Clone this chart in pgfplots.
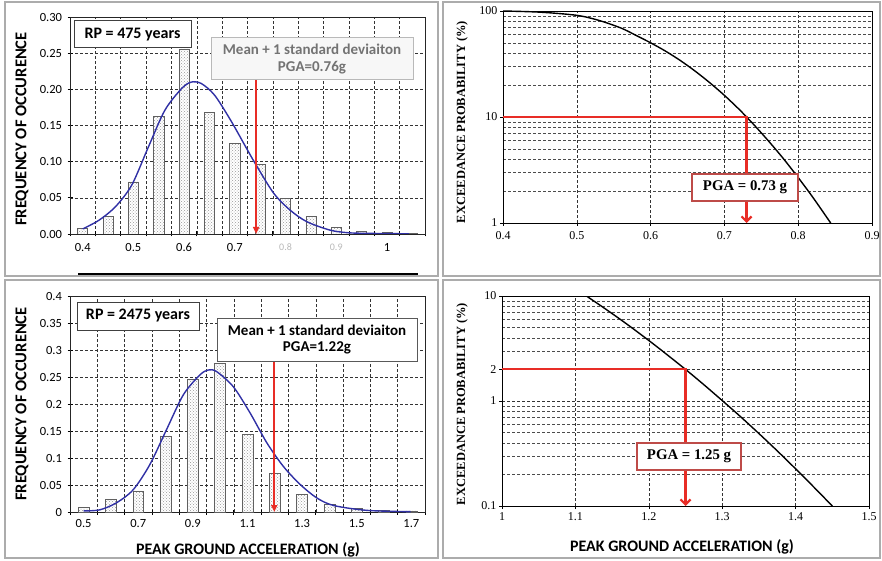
\documentclass[border=0pt]{standalone}
\usepackage{fontspec}
\setmainfont{Carlito}
\newfontfamily\tnr{Liberation Serif}
\usepackage{pgfplots}
\pgfplotsset{compat=1.18}
\usetikzlibrary{patterns,arrows.meta}

\definecolor{curveblue}{RGB}{48,48,165}
\definecolor{pgared}{RGB}{232,45,38}
\definecolor{boxred}{RGB}{190,75,72}

\pgfplotsset{
  histo/.style={
    /pgf/number format/assume math mode=true,
    scale only axis,
    axis line style={black!85, line width=0.8pt},
    grid=major,
    major grid style={black!80, densely dashed, line width=0.5pt},
    tick style={black, line width=0.8pt},
    tick align=center, major tick length=5pt,
    xtick pos=bottom, ytick pos=left,
    tick label style={font=\fontsize{12.5}{14}\selectfont},
    yticklabel style={xshift=-2pt},
    xticklabels={},
    extra x tick style={grid=none, major tick length=0pt,
      xticklabel style={yshift=-4pt}},
    ymin=0,
  },
  bars/.style={ybar, bar shift=0pt, draw=gray!75!black, line width=0.6pt,
    fill=white, postaction={pattern=crosshatch dots, pattern color=gray!80}},
  fit/.style={curveblue, line width=1.4pt, smooth, tension=0.5},
  hazard/.style={
    /pgf/number format/assume math mode=true,
    scale only axis,
    axis line style={black, line width=0.6pt},
    grid=both,
    major grid style={black!80, densely dashed, line width=0.5pt},
    minor grid style={black!70, densely dashed, line width=0.4pt},
    tick style={black, line width=0.6pt},
    major tick length=3pt, minor tick length=0pt, tick align=outside,
    xtick pos=bottom, ytick pos=left,
    tick label style={font=\tnr\fontsize{12}{14}\selectfont},
    yticklabel style={xshift=1pt},
  },
  hazcurve/.style={black, line width=1.4pt, smooth, tension=0.5},
  pgaline/.style={pgared, line width=2.2pt, -{Straight Barb[length=5pt,width=10pt]}},
}

\begin{document}
\begin{tikzpicture}[x=1pt,y=1pt]
\path[use as bounding box] (0,0) rectangle (882,560);
\fill[white] (0,0) rectangle (882,560);

% panel frames
\draw[gray!65, line width=1.4pt] (5,284) rectangle (438,558);
\draw[gray!65, line width=1.4pt] (5,2) rectangle (438,280);
\draw[gray!65, line width=1.4pt] (443,284) rectangle (880,558);
\draw[gray!65, line width=1.4pt] (443,2) rectangle (880,280);

% ---------- RP = 475 years : histogram ----------
\begin{axis}[histo, at={(70pt,326pt)}, anchor=south west,
  width=355pt, height=217pt,
  xmin=0.375, xmax=1.075, ymax=0.30,
  xtick={0.375,0.425,0.475,0.525,0.575,0.625,0.675,0.725,0.775,0.825,0.875,0.925,0.975,1.025,1.075},
  extra x ticks={0.4,0.5,0.6,0.7,0.8,0.9,1.0},
  extra x tick labels={0.4,0.5,0.6,0.7,{\color{gray!55}\fontsize{10}{11}\selectfont 0.8},{\color{gray!55}\fontsize{10}{11}\selectfont 0.9},1},
  extra x tick style={grid=none, major tick length=0pt, xticklabel style={yshift=-2pt}},
  ytick={0,0.05,0.10,0.15,0.20,0.25,0.30},
  yticklabels={0.00,0.05,0.10,0.15,0.20,0.25,0.30},
]
\addplot[bars, bar width=0.02] coordinates {
  (0.40,0.008) (0.45,0.024) (0.50,0.072) (0.55,0.163) (0.60,0.256)
  (0.65,0.168) (0.70,0.125) (0.75,0.096) (0.80,0.049) (0.85,0.024)
  (0.90,0.009) (0.95,0.004) (1.00,0.002) (1.05,0.001)};
\addplot[fit] coordinates {
  (0.400,0.007) (0.432,0.019) (0.465,0.038) (0.497,0.068) (0.530,0.121)
  (0.562,0.171) (0.595,0.201) (0.614,0.210) (0.634,0.208) (0.660,0.192)
  (0.692,0.157) (0.725,0.116) (0.744,0.093) (0.777,0.056) (0.809,0.033)
  (0.842,0.017) (0.887,0.0055) (0.919,0.002) (0.952,0.001) (1.043,0.0003)};
\addplot[pgared, line width=2pt, -{Triangle[length=7pt,width=6pt]}]
  coordinates {(0.742,0.2135) (0.742,0)};
\end{axis}
\node[draw=black!75, line width=1pt, fill=white, minimum width=117pt, minimum height=27pt,
  font=\bfseries\fontsize{16}{18}\selectfont] at (132.5,525.5) {RP = 475 years};
\node[draw=gray!55, line width=1pt, fill=gray!6, minimum width=202pt, minimum height=42pt,
  align=center, text=black!55, font=\bfseries\fontsize{15}{16.5}\selectfont]
  at (312,501) {Mean + 1 standard deviaiton\\PGA=0.76g};
\node[rotate=90, font=\bfseries\fontsize{16.5}{18}\selectfont] at (22,431) {FREQUENCY OF OCCURENCE};
\draw[black, line width=2.2pt] (78,286) -- (418,286);

% ---------- RP = 2475 years : histogram ----------
\begin{axis}[histo, at={(70pt,48pt)}, anchor=south west,
  width=355pt, height=216pt,
  xmin=0.45, xmax=1.75, ymax=0.4,
  xtick={0.45,0.55,0.65,0.75,0.85,0.95,1.05,1.15,1.25,1.35,1.45,1.55,1.65,1.75},
  extra x ticks={0.5,0.7,0.9,1.1,1.3,1.5,1.7},
  extra x tick labels={0.5,0.7,0.9,1.1,1.3,1.5,1.7},
  ytick={0,0.05,0.1,0.15,0.2,0.25,0.3,0.35,0.4},
  yticklabels={0,0.05,0.1,0.15,0.2,0.25,0.3,0.35,0.4},
]
\addplot[bars, bar width=0.04] coordinates {
  (0.5,0.009) (0.6,0.023) (0.7,0.039) (0.8,0.141) (0.9,0.245)
  (1.0,0.275) (1.1,0.144) (1.2,0.072) (1.3,0.033) (1.4,0.015)
  (1.5,0.007) (1.6,0.004) (1.7,0.002)};
\addplot[fit] coordinates {
  (0.500,0.002) (0.559,0.004) (0.620,0.017) (0.681,0.041) (0.742,0.0875)
  (0.803,0.152) (0.865,0.217) (0.926,0.254) (0.957,0.263) (0.987,0.260)
  (1.048,0.232) (1.110,0.183) (1.171,0.128) (1.232,0.084) (1.293,0.051)
  (1.354,0.026) (1.416,0.012) (1.538,0.003) (1.697,0.0006)};
\addplot[pgared, line width=2pt, -{Triangle[length=7pt,width=6pt]}]
  coordinates {(1.198,0.283) (1.198,0)};
\end{axis}
\node[draw=black!75, line width=1pt, fill=white, minimum width=122pt, minimum height=28pt,
  font=\bfseries\fontsize{16}{18}\selectfont] at (138,244) {RP = 2475 years};
\node[draw=black!65, line width=1pt, fill=white, minimum width=200pt, minimum height=43pt,
  align=center, font=\bfseries\fontsize{15}{16.5}\selectfont]
  at (317,220.5) {Mean + 1 standard deviaiton\\PGA=1.22g};
\node[rotate=90, font=\bfseries\fontsize{16.5}{18}\selectfont] at (22,156) {FREQUENCY OF OCCURENCE};
\node[font=\bfseries\fontsize{16}{18}\selectfont] at (248,10) {PEAK GROUND ACCELERATION (g)};

% ---------- hazard curve, 475 years ----------
\begin{axis}[ymode=log, hazard, at={(503pt,337pt)}, anchor=south west,
  width=369pt, height=212pt,
  xmin=0.4, xmax=0.9, ymin=1, ymax=100,
  xtick={0.4,0.5,0.6,0.7,0.8,0.9},
  xticklabels={0.4,0.5,0.6,0.7,0.8,0.9},
  xticklabel style={yshift=-2pt},
  ytick={1,10,100}, yticklabels={1,10,100},
  minor ytick={2,3,4,5,6,7,8,9,20,30,40,50,60,70,80,90},
]
\addplot[hazcurve] coordinates {
  (0.40,100) (0.45,97.5) (0.50,91) (0.53,81.5) (0.56,69) (0.58,59)
  (0.60,50.1) (0.62,41.9) (0.64,34.2) (0.66,27.2) (0.68,21.1) (0.70,16.0)
  (0.72,11.8) (0.73,10.0) (0.74,8.45) (0.76,5.91) (0.78,4.04) (0.80,2.68)
  (0.82,1.74) (0.844,1.0)};
\addplot[pgaline] coordinates {(0.4,10) (0.73,10) (0.73,1)};
\end{axis}
\node[draw=boxred, line width=1.5pt, fill=white, minimum width=106pt, minimum height=27pt,
  font=\tnr\bfseries\fontsize{14.8}{16}\selectfont] at (745,372.5) {PGA = 0.73 g};
\node[rotate=90, font=\tnr\bfseries\fontsize{12.5}{14}\selectfont] at (462,438) {EXCEEDANCE PROBABILITY (\%)};

% ---------- hazard curve, 2475 years ----------
\begin{axis}[ymode=log, hazard, at={(502pt,54pt)}, anchor=south west,
  width=367pt, height=210pt,
  xmin=1, xmax=1.5, ymin=0.1, ymax=10,
  xtick={1,1.1,1.2,1.3,1.4,1.5},
  xticklabels={1,1.1,1.2,1.3,1.4,1.5},
  ytick={0.1,1,2,10}, yticklabels={0.1,1,2,10},
  minor ytick={0.2,0.3,0.4,0.5,0.6,0.7,0.8,0.9,2,3,4,5,6,7,8,9},
]
\addplot[hazcurve] coordinates {
  (1.115,10) (1.14,7.61) (1.165,5.73) (1.19,4.26) (1.215,3.13) (1.25,2.0)
  (1.275,1.43) (1.30,1.01) (1.325,0.709) (1.35,0.49) (1.375,0.335)
  (1.40,0.226) (1.425,0.151) (1.45,0.1)};
\addplot[pgaline] coordinates {(1,2) (1.25,2) (1.25,0.1)};
\end{axis}
\node[draw=boxred, line width=1.5pt, fill=white, minimum width=104pt, minimum height=27pt,
  font=\tnr\bfseries\fontsize{14.8}{16}\selectfont] at (689,103.5) {PGA = 1.25 g};
\node[rotate=90, font=\tnr\bfseries\fontsize{12.5}{14}\selectfont] at (462,156) {EXCEEDANCE PROBABILITY (\%)};
\node[font=\bfseries\fontsize{16}{18}\selectfont] at (682,13) {PEAK GROUND ACCELERATION (g)};
\end{tikzpicture}
\end{document}
